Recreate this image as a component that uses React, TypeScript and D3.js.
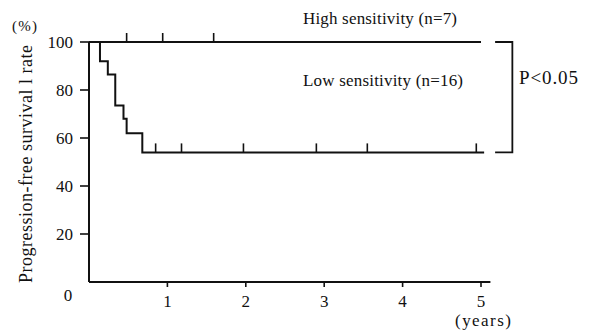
import * as d3 from "d3";

// Kaplan-Meier steps (years, %)
const lowTimes = [0, 0.14, 0.24, 0.335, 0.44, 0.48, 0.68];
const lowRates = [100, 92, 86.5, 73.5, 68, 62, 54];
const lowEnd = 5.04;
const lowCensored = [0.85, 1.18, 1.97, 2.9, 3.55, 4.94];

const highTimes = [0];
const highRates = [100];
const highEnd = 5.0;
const highCensored = [0.48, 0.94, 1.59];

const yTicks = [20, 40, 60, 80, 100];
const xTicks = [1, 2, 3, 4, 5];

const W = 596;
const H = 332;
const font = "'Liberation Serif', 'Times New Roman', serif";

function stepPath(times: number[], rates: number[], end: number, x: d3.ScaleLinear<number, number>, y: d3.ScaleLinear<number, number>) {
  const pts: [number, number][] = [];
  times.forEach((t, i) => {
    if (i > 0) pts.push([t, rates[i - 1]]);
    pts.push([t, rates[i]]);
  });
  pts.push([end, rates[rates.length - 1]]);
  return d3.line<[number, number]>().x((d) => x(d[0])).y((d) => y(d[1]))(pts) ?? "";
}

export default function App() {
  const x = d3.scaleLinear().domain([0, 5]).range([89, 481]);
  const y = d3.scaleLinear().domain([0, 100]).range([282, 42]);

  const lowPath = stepPath(lowTimes, lowRates, lowEnd, x, y);
  const highPath = stepPath(highTimes, highRates, highEnd, x, y);
  const lowLast = lowRates[lowRates.length - 1];
  const highLast = highRates[highRates.length - 1];

  return (
    <svg
      width={W}
      height={H}
      viewBox={`0 0 ${W} ${H}`}
      style={{ position: "absolute", left: 0, top: 0, background: "#fff" }}
      fontFamily={font}
      fill="#111"
    >
      {/* axes */}
      <line x1={x(0)} x2={x(0)} y1={y(100)} y2={y(0)} stroke="#111" strokeWidth={2} />
      <line x1={x(0)} x2={x(5.12)} y1={y(0)} y2={y(0)} stroke="#111" strokeWidth={2} />

      {yTicks.map((t) => (
        <g key={t}>
          <line x1={x(0) - 9} x2={x(0)} y1={y(t)} y2={y(t)} stroke="#111" strokeWidth={1.6} />
          <text x={73} y={y(t) + 6} textAnchor="end" fontSize={17}>
            {t}
          </text>
        </g>
      ))}
      <text x={68} y={301} textAnchor="middle" fontSize={17}>
        0
      </text>

      {xTicks.map((t) => (
        <g key={t}>
          <line x1={x(t)} x2={x(t)} y1={y(0)} y2={y(0) + 5} stroke="#111" strokeWidth={1.6} />
          <text x={x(t)} y={307} textAnchor="middle" fontSize={17}>
            {t}
          </text>
        </g>
      ))}

      {/* curves */}
      <path d={highPath} fill="none" stroke="#111" strokeWidth={2} />
      <path d={lowPath} fill="none" stroke="#111" strokeWidth={2} />

      {highCensored.map((t) => (
        <line key={"h" + t} x1={x(t)} x2={x(t)} y1={y(highLast)} y2={y(highLast) - 9} stroke="#111" strokeWidth={1.6} />
      ))}
      {lowCensored.map((t) => (
        <line key={"l" + t} x1={x(t)} x2={x(t)} y1={y(lowLast)} y2={y(lowLast) - 9} stroke="#111" strokeWidth={1.6} />
      ))}

      {/* significance bracket */}
      <path
        d={`M${x(5.18)},${y(highLast)}H${x(5.4)}V${y(lowLast)}H${x(5.18)}`}
        fill="none"
        stroke="#111"
        strokeWidth={1.8}
      />

      {/* labels */}
      <text x={303} y={24} fontSize={17} textLength={154} lengthAdjust="spacing">
        High sensitivity (n=7)
      </text>
      <text x={303} y={86} fontSize={17} textLength={160} lengthAdjust="spacing">
        Low sensitivity (n=16)
      </text>
      <text x={519} y={84} fontSize={19} textLength={59} lengthAdjust="spacing">
        P&lt;0.05
      </text>
      <text x={455} y={326} fontSize={17} textLength={56} lengthAdjust="spacing">
        (years)
      </text>
      <text x={12} y={31} fontSize={15} textLength={25} lengthAdjust="spacing">
        (%)
      </text>
      <text
        transform="translate(32,283) rotate(-90)"
        fontSize={18}
        textLength={238}
        lengthAdjust="spacing"
      >
        Progression-free survival l rate
      </text>
    </svg>
  );
}
